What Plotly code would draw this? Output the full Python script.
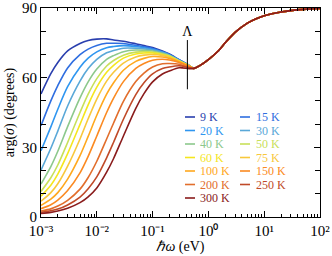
import plotly.graph_objects as go

# photon energy grid (eV)
omega_low = [0.001, 0.0015, 0.002, 0.003, 0.005, 0.007, 0.01, 0.015, 0.02, 0.03,
             0.05, 0.07, 0.1, 0.15, 0.2, 0.3, 0.45]
omega_high = [0.55, 0.7, 1.0, 1.5, 2.0, 3.0, 5.0, 7.0, 10.0, 20.0, 50.0, 100.0]
# common high-energy part (degrees)
arg_high = [64.0, 65.2, 67.8, 71.5, 75.0, 79.5, 83.5, 85.3, 86.7, 88.3, 89.4, 89.8]

temperatures = ["9 K", "15 K", "20 K", "30 K", "40 K", "50 K", "60 K", "75 K",
                "100 K", "150 K", "200 K", "250 K", "300 K"]
colors = ["#2a3fae", "#2f6ee0", "#2f96f0", "#5aa8d8", "#8cc88c", "#c8e05a",
          "#f5e61e", "#f8c83c", "#ffa81e", "#fb8a22", "#e26e2c", "#c04a28", "#8a1c1c"]

arg_9K = [53.0, 61.7, 66.5, 71.5, 74.7, 76.0, 76.6, 76.7, 76.2, 75.7, 74.6, 73.8, 73.0, 71.5, 70.2, 67.7, 65.3]
arg_15K = [39.3, 50.0, 56.6, 64.2, 69.9, 72.3, 73.9, 74.8, 74.8, 74.7, 73.9, 73.3, 72.6, 71.2, 70.0, 67.6, 65.3]
arg_20K = [28.5, 38.8, 46.4, 56.1, 64.5, 68.4, 71.1, 72.9, 73.4, 73.8, 73.4, 72.9, 72.2, 71.0, 69.8, 67.5, 65.2]
arg_30K = [20.2, 29.6, 37.0, 47.8, 58.5, 63.9, 67.9, 70.7, 71.7, 72.7, 72.7, 72.4, 71.9, 70.8, 69.7, 67.4, 65.2]
arg_40K = [14.2, 21.7, 28.3, 38.9, 51.3, 58.2, 63.7, 67.9, 69.5, 71.2, 71.9, 71.8, 71.5, 70.5, 69.5, 67.3, 65.2]
arg_50K = [11.0, 16.9, 22.4, 32.1, 45.0, 52.9, 59.6, 65.0, 67.4, 69.7, 71.0, 71.2, 71.0, 70.2, 69.3, 67.2, 65.1]
arg_60K = [9.0, 13.7, 18.5, 27.3, 39.9, 48.3, 55.9, 62.3, 65.3, 68.4, 70.2, 70.6, 70.6, 69.9, 69.1, 67.1, 65.1]
arg_75K = [6.8, 10.5, 14.3, 21.9, 33.6, 42.3, 50.8, 58.5, 62.3, 66.3, 68.9, 69.7, 70.0, 69.6, 68.8, 67.0, 65.0]
arg_100K = [5.0, 7.7, 10.5, 16.3, 26.4, 34.7, 43.8, 52.9, 57.8, 63.2, 67.0, 68.3, 69.1, 68.9, 68.3, 66.8, 65.0]
arg_150K = [3.6, 5.3, 7.3, 11.4, 19.0, 26.1, 34.9, 45.0, 51.2, 58.3, 64.0, 66.1, 67.5, 67.9, 67.6, 66.5, 64.8]
arg_200K = [2.6, 3.5, 4.7, 7.2, 12.0, 17.0, 24.0, 33.6, 40.5, 49.8, 58.3, 62.0, 64.6, 66.0, 66.1, 65.8, 64.5]
arg_250K = [2.0, 2.7, 3.4, 5.2, 8.6, 12.2, 17.3, 25.5, 32.2, 42.1, 52.7, 57.8, 61.6, 63.9, 64.6, 65.1, 64.3]
arg_300K = [1.5, 2.0, 2.6, 3.8, 6.2, 8.7, 12.5, 19.3, 25.2, 34.9, 46.8, 53.1, 58.2, 61.6, 62.9, 64.3, 63.9]

series = [arg_9K, arg_15K, arg_20K, arg_30K, arg_40K, arg_50K, arg_60K, arg_75K,
          arg_100K, arg_150K, arg_200K, arg_250K, arg_300K]

lambda_x = [0.42, 0.42]
lambda_y = [55.0, 76.2]
lambda_label_y = [79.5]

x_tickvals = [1e-3, 1e-2, 1e-1, 1e0, 1e1, 1e2]
x_ticktext = ["10⁻³", "10⁻²", "10⁻¹", "10⁰", "10¹", "10²"]
y_tickvals = [0, 30, 60, 90]
y_ticktext = ["0", "30", "60", "90"]

FONT = "Liberation Serif"

fig = go.Figure()
omega = omega_low + omega_high
for name, vals, col in zip(temperatures, series, colors):
    fig.add_trace(go.Scatter(x=omega, y=vals + arg_high, mode="lines", name=name,
                             line=dict(color=col, width=1.6, shape="spline", smoothing=0.8),
                             showlegend=False, hoverinfo="skip"))

fig.add_trace(go.Scatter(x=lambda_x, y=lambda_y, mode="lines",
                         line=dict(color="black", width=1), showlegend=False,
                         hoverinfo="skip"))
fig.add_trace(go.Scatter(x=[lambda_x[0]], y=lambda_label_y, mode="text", text=["Λ"],
                         textfont=dict(family=FONT, size=14, color="black"),
                         showlegend=False, hoverinfo="skip"))

minor_x = []
for d in range(-3, 2):
    for m in range(2, 10):
        minor_x.append(m * 10 ** d)

fig.update_xaxes(type="log", range=[-3, 2], tickvals=x_tickvals, ticktext=x_ticktext,
                 ticks="inside", ticklen=6, tickcolor="black", showline=True,
                 linecolor="black", linewidth=1, mirror="allticks", showgrid=False,
                 zeroline=False, automargin=False,
                 minor=dict(ticks="inside", ticklen=3, tickvals=minor_x, tickcolor="black",
                            showgrid=False),
                 tickfont=dict(family=FONT, size=15, color="black"),
                 title=dict(text="<i>ℏω</i> (eV)", font=dict(family=FONT, size=14, color="black"),
                            standoff=2))
fig.update_yaxes(range=[0, 90], tickvals=y_tickvals, ticktext=y_ticktext,
                 ticks="inside", ticklen=6, tickcolor="black", showline=True,
                 linecolor="black", linewidth=1, mirror="allticks", showgrid=False,
                 zeroline=False, automargin=False,
                 minor=dict(ticks="inside", ticklen=5, dtick=10, tickcolor="black",
                            showgrid=False),
                 tickfont=dict(family=FONT, size=15, color="black"),
                 title=dict(text="arg(<i>σ</i>) (degrees)",
                            font=dict(family=FONT, size=14, color="black"), standoff=4))

# manual two-column legend (layout positions)
L, R, T, B = 41, 12, 8, 39
W, H = 332, 256
pw, ph = W - L - R, H - T - B
def px_to_paper(px, py):
    return (px - L) / pw, (H - B - py) / ph

col_x = [(185, 195, 198), (240, 250, 254)]
row_y0, row_dy = 117, 13.5
for i, (name, col) in enumerate(zip(temperatures, colors)):
    c, r = i % 2, i // 2
    x0, x1, xt = col_x[c]
    py = row_y0 + r * row_dy
    a0 = px_to_paper(x0, py)
    a1 = px_to_paper(x1, py)
    at = px_to_paper(xt, py)
    fig.add_shape(type="line", xref="paper", yref="paper", x0=a0[0], x1=a1[0],
                  y0=a0[1], y1=a1[1], line=dict(color=col, width=1.6))
    fig.add_annotation(xref="paper", yref="paper", x=at[0], y=at[1], text=name,
                       showarrow=False, xanchor="left", yanchor="middle",
                       font=dict(family=FONT, size=12, color=col))

fig.update_layout(width=W, height=H, margin=dict(l=L, r=R, t=T, b=B),
                  paper_bgcolor="white", plot_bgcolor="white", showlegend=False,
                  hovermode=False)

fig.write_html("out.html", config={"displayModeBar": False, "staticPlot": True},
               post_script="document.body.style.margin='0';document.body.style.overflow='hidden';")
